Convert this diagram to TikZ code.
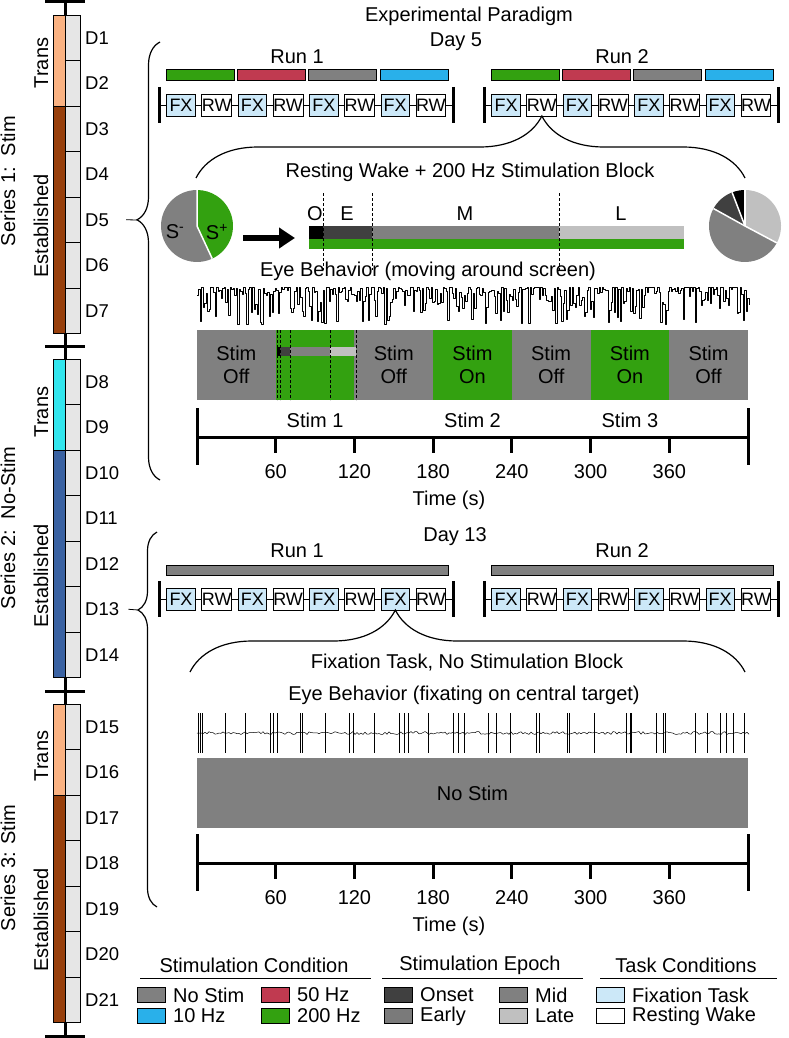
\documentclass[tikz,border=0pt]{standalone}
\usepackage{fontspec}
\setmainfont{Liberation Sans}
\usetikzlibrary{positioning, arrows.meta, decorations.pathreplacing}

\definecolor{stimgreen}{RGB}{51,161,16}
\definecolor{stimred}{RGB}{192,58,80}
\definecolor{stimblue}{RGB}{41,176,234}
\definecolor{stimgray}{RGB}{128,128,128}
\definecolor{onsetgray}{RGB}{64,64,64}
\definecolor{earlygray}{RGB}{122,122,122}
\definecolor{lategray}{RGB}{192,192,192}
\definecolor{fxblue}{RGB}{204,232,248}
\definecolor{daygray}{RGB}{230,230,230}
\definecolor{transpeach}{RGB}{250,178,130}
\definecolor{estbrown}{RGB}{152,64,12}
\definecolor{transcyan}{RGB}{50,230,238}
\definecolor{estblue}{RGB}{58,98,162}

\begin{document}
\begin{tikzpicture}[x=1pt,y=-1pt,
    txt/.style={font=\fontsize{20}{23}\selectfont,inner sep=0pt},
    daytxt/.style={font=\fontsize{18.5}{21}\selectfont,inner sep=0pt,anchor=west},
    sidetxt/.style={font=\fontsize{20}{23}\selectfont,inner sep=0pt,rotate=90,anchor=base},
    taskbox/.style={draw,line width=0.8pt,minimum width=28.5pt,minimum height=22pt,inner sep=0pt,font=\fontsize{18}{20}\selectfont},
    stimblock/.style={minimum width=78.7pt,minimum height=70pt,inner sep=0pt,align=center,font=\fontsize{20}{23}\selectfont},
    frame/.style={line width=0.8pt},
    heavy/.style={line width=3pt},
    trace/.style={line width=0.5pt,line join=round},
    bigarrow/.style={line width=6pt,-{Triangle[length=16pt,width=20pt]}},
    epochline/.style={line width=0.6pt,dash pattern=on 3pt off 2pt},
    lbrace/.style={decorate,line width=1.2pt}]

\fill[white] (0,0) rectangle (788,1038);
\useasboundingbox (0,0) rectangle (788,1038);

% series column
\draw[heavy] (65,0) -- (65,1038);
\foreach \yt in {2,346,691,1036}
  \draw[heavy] (45,\yt) -- (85,\yt);
\foreach \ys/\ct/\ce/\nb in {15/transpeach/estbrown/0,359/transcyan/estblue/7,704/transpeach/estbrown/14} {
  \filldraw[fill=\ct,frame] (53,\ys) rectangle (65,\ys+91);
  \filldraw[fill=\ce,frame] (53,\ys+91) rectangle (65,\ys+318.5);
  \foreach \k in {1,...,7} {
    \pgfmathtruncatemacro\dn{\nb+\k}
    \filldraw[fill=daygray,frame] (65,\ys+\k*45.5-45.5) rectangle (80,\ys+\k*45.5);
    \node[daytxt] (d\dn) at (85,\ys+\k*45.5-22.75) {D\dn};
  }
}
\node[sidetxt] (ser1) at (15,181) {Series 1:\ \ Stim};
\node[sidetxt] (ser2) at (15,528) {Series 2:\ \ No-Stim};
\node[sidetxt] (ser3) at (15,868) {Series 3: Stim};
\node[sidetxt] (tr1) at (48,63) {Trans};
\node[sidetxt] (es1) at (48,226) {Established};
\node[sidetxt] (tr2) at (48,412) {Trans};
\node[sidetxt] (es2) at (48,576) {Established};
\node[sidetxt] (tr3) at (48,756) {Trans};
\node[sidetxt] (es3) at (48,920) {Established};

% braces to days
\coordinate (tip5) at (137,220);
\coordinate (tip13) at (138,610);
\draw[frame] ([xshift=17pt]d5.east) -- (tip5);
\draw[frame] ([xshift=9pt]d13.east) -- (tip13);
\draw[lbrace,decoration={brace,amplitude=23pt,aspect=0.594}] (160,480) -- (160,42);
\draw[lbrace,decoration={brace,amplitude=19pt,aspect=0.792}] (157,907) -- (157,532);

% Day 5
\node[txt] (title) at (469,16) {Experimental Paradigm};
\node[txt] (day5) at (456,42) {Day 5};
\foreach \rn/\xo in {1/159,2/484} {
  \node[txt] (d5run\rn) at (\xo+138,57) {Run \rn};
  \foreach \cc [count=\k from 0] in {stimgreen,stimred,stimgray,stimblue}
    \filldraw[fill=\cc,frame] (\xo+7+\k*71.4,69) rectangle (\xo+75+\k*71.4,80);
  \draw[frame] (\xo,105) -- (\xo+294,105);
  \draw[heavy] (\xo,87) -- (\xo,123);
  \draw[heavy] (\xo+294,87) -- (\xo+294,123);
  \foreach \tk/\fc [count=\k from 0] in {FX/fxblue,RW/white,FX/fxblue,RW/white,FX/fxblue,RW/white,FX/fxblue,RW/white}
    \node[taskbox,fill=\fc] (d5r\rn-\k) at (\xo+22+\k*35.7,105) {\tk};
}
\draw[lbrace,decoration={brace,amplitude=62pt,aspect=0.63}] (196,178) -- (745,178);
\node[txt] (rwblock) at (470,172) {Resting Wake + 200 Hz Stimulation Block};

% pies and epochs
\node[circle,minimum size=72pt,inner sep=0pt] (pieL) at (197,226) {};
\fill[stimgray] (pieL.center) -- ++(90:36pt) arc[start angle=90,end angle=295,radius=36pt] -- cycle;
\fill[stimgreen] (pieL.center) -- ++(-65:36pt) arc[start angle=-65,end angle=90,radius=36pt] -- cycle;
\draw[white,line width=1.5pt] (pieL.center) -- ++(90:36pt) (pieL.center) -- ++(-65:36pt);
\node[txt] (sminus) at (175,232) {S\textsuperscript{-}};
\node[txt] (splus) at (217,232) {S\textsuperscript{+}};
\node[circle,minimum size=72pt,inner sep=0pt] (pieR) at (745,226) {};
\foreach \sa/\sb/\cc in {-28/90/lategray,90/111/black,111/151/onsetgray,151/332/stimgray}
  \fill[\cc] (pieR.center) -- ++(\sa:36pt) arc[start angle=\sa,end angle=\sb,radius=36pt] -- cycle;
\foreach \sa in {-28,90,111,151}
  \draw[white,line width=1.5pt] (pieR.center) -- ++(\sa:36pt);
\coordinate (arrowtail) at (243,238);
\coordinate (arrowtip) at (295,238);
\draw[bigarrow] (arrowtail) -- (arrowtip);
\foreach \xa/\xb/\cc in {309/323/black,323/372/onsetgray,372/559/stimgray,559/684/lategray}
  \fill[\cc] (\xa,226) rectangle (\xb,239);
\fill[stimgreen] (309,239) rectangle (684,249);
\foreach \xe in {323,372,559}
  \draw[epochline] (\xe,193) -- (\xe,270);
\node[txt] (epO) at (315,214) {O};
\node[txt] (epE) at (347,214) {E};
\node[txt] (epM) at (465,214) {M};
\node[txt] (epL) at (621,214) {L};

% eye trace, stim blocks, time axis
\node[txt] (eye5) at (428,271) {Eye Behavior (moving around screen)};
\pgfmathsetseed{42}
\draw[trace] (197,295) \foreach \i in {1,...,368} { -| ({197+1.5*\i},{287+38*pow(rnd,2.5)}) };
\foreach \tk/\cc/\lb in {0/stimgray/{Stim\\Off},1/stimgreen/{},2/stimgray/{Stim\\Off},3/stimgreen/{Stim\\On},4/stimgray/{Stim\\Off},5/stimgreen/{Stim\\On},6/stimgray/{Stim\\Off}}
  \node[stimblock,fill=\cc] (s5blk\tk) at (236.35+\tk*78.7,365) {\lb};
\foreach \xa/\xb/\cc in {277/280/black,280/290/onsetgray,290/330/stimgray,330/356/lategray}
  \fill[\cc] (\xa,347) rectangle (\xb,356);
\foreach \xe in {277,280,290,330,356}
  \draw[epochline] (\xe,330) -- (\xe,400);
\foreach \sn/\tm in {1/90,2/210,3/330}
  \node[txt] (stim\sn) at (197+\tm*1.312,420) {Stim \sn};
\draw[heavy] (197,437) -- (748,437);
\draw[heavy] (197,408) -- (197,465);
\draw[heavy] (748,408) -- (748,465);
\foreach \tm in {60,120,...,360} {
  \draw[heavy] (197+\tm*1.312,437) -- (197+\tm*1.312,453);
  \node[txt] (t5x\tm) at (197+\tm*1.312,472) {\tm};
}
\node[txt] (time5) at (449,500) {Time (s)};

% Day 13
\node[txt] (day13) at (455,537) {Day 13};
\foreach \rn/\xo in {1/159,2/484} {
  \node[txt] (d13run\rn) at (\xo+138,551) {Run \rn};
  \filldraw[fill=stimgray,frame] (\xo+7,565) rectangle (\xo+289,575);
  \draw[frame] (\xo,599) -- (\xo+294,599);
  \draw[heavy] (\xo,581) -- (\xo,617);
  \draw[heavy] (\xo+294,581) -- (\xo+294,617);
  \foreach \tk/\fc [count=\k from 0] in {FX/fxblue,RW/white,FX/fxblue,RW/white,FX/fxblue,RW/white,FX/fxblue,RW/white}
    \node[taskbox,fill=\fc] (d13r\rn-\k) at (\xo+22+\k*35.7,599) {\tk};
}
\draw[lbrace,decoration={brace,amplitude=62pt,aspect=0.37}] (190,672) -- (745,672);
\node[txt] (fxblock) at (467,663) {Fixation Task, No Stimulation Block};
\node[txt] (eye13) at (464,695) {Eye Behavior (fixating on central target)};
\draw[trace] (197,733) \foreach \i in {1,...,276} { -- ({197+2*\i},{731.5+3*rnd}) };
\foreach \xs in {198,200,202,225,245,270,273,277,300,302,325,349,353,374,399,404,408,428,453,458,464,488,496,510,536,539,567,569,594,626,630,631,656,663,665,695,707,720,726,733,744}
  \draw[trace] (\xs,713) -- (\xs,753);
\node[stimblock,fill=stimgray,minimum width=551pt] (nostim) at (472.5,793) {No Stim};
\draw[heavy] (197,863) -- (748,863);
\draw[heavy] (197,834) -- (197,891);
\draw[heavy] (748,834) -- (748,891);
\foreach \tm in {60,120,...,360} {
  \draw[heavy] (197+\tm*1.312,863) -- (197+\tm*1.312,879);
  \node[txt] (t13x\tm) at (197+\tm*1.312,898) {\tm};
}
\node[txt] (time13) at (449,926) {Time (s)};

% legend
\foreach \hd/\xc/\xa/\xb [count=\hn] in {Stimulation Condition/254/140/371,Stimulation Epoch/480/382/583,Task Conditions/686/600/777} {
  \node[txt] (head\hn) at (\xc,965) {\hd};
  \draw[frame] (\xa,978) -- (\xb,978);
}
\foreach \xs/\cc/\lb/\rw [count=\lnum] in {137/stimgray/No Stim/995,137/stimblue/10 Hz/1016,261/stimred/50 Hz/995,261/stimgreen/200 Hz/1016,384/onsetgray/Onset/995,384/earlygray/Early/1016,499/stimgray/Mid/995,499/lategray/Late/1016,596/fxblue/Fixation Task/995,596/white/Resting Wake/1016} {
  \filldraw[fill=\cc,frame] (\xs,\rw-7.5) rectangle (\xs+28,\rw+7.5);
  \node[txt,anchor=west] (leg\lnum) at (\xs+36,\rw) {\lb};
}
\end{tikzpicture}
\end{document}
